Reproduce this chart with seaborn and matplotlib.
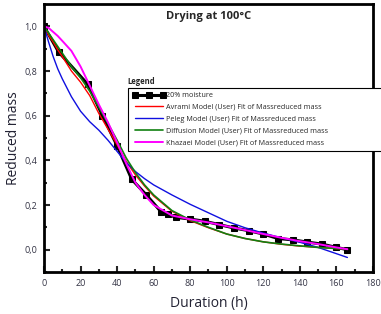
import pandas as pd
import numpy as np
import matplotlib
matplotlib.use("Agg")
import matplotlib.pyplot as plt
import seaborn as sns

# Measured data (20% moisture)
t_data = [0, 8, 24, 32, 40, 48, 56, 64, 68, 72, 80, 88, 96, 104, 112, 120, 128, 136, 144, 152, 160, 166]
m_data = [1.0, 0.885, 0.74, 0.60, 0.465, 0.315, 0.245, 0.17, 0.158, 0.145, 0.137, 0.127, 0.112,
          0.097, 0.085, 0.07, 0.05, 0.044, 0.034, 0.025, 0.01, 0.0]

# Model fit curves
t_fit = [0, 2.5, 5, 7.5, 10, 15, 20, 25, 30, 35, 40, 45, 50, 55, 60, 70, 80, 90, 100,
         110, 120, 130, 140, 150, 160, 166]
avrami = [1.0, 0.96, 0.93, 0.895, 0.865, 0.80, 0.75, 0.69, 0.61, 0.54, 0.47, 0.395, 0.335, 0.285,
          0.24, 0.172, 0.13, 0.098, 0.07, 0.05, 0.035, 0.024, 0.016, 0.01, 0.005, 0.003]
peleg = [1.0, 0.93, 0.865, 0.81, 0.765, 0.685, 0.62, 0.573, 0.535, 0.49, 0.44, 0.39, 0.35, 0.318,
         0.29, 0.245, 0.203, 0.165, 0.127, 0.098, 0.074, 0.053, 0.033, 0.01, -0.018, -0.035]
diffusion = [1.0, 0.97, 0.94, 0.91, 0.88, 0.82, 0.77, 0.71, 0.638, 0.565, 0.49, 0.41, 0.345, 0.29,
             0.245, 0.175, 0.133, 0.10, 0.07, 0.05, 0.035, 0.025, 0.017, 0.01, 0.005, 0.003]
khazaei = [1.0, 0.993, 0.975, 0.957, 0.935, 0.89, 0.82, 0.735, 0.65, 0.57, 0.48, 0.385, 0.30, 0.245,
           0.20, 0.153, 0.136, 0.122, 0.105, 0.088, 0.07, 0.053, 0.038, 0.025, 0.01, 0.002]

x_ticks = [0, 20, 40, 60, 80, 100, 120, 140, 160, 180]
y_ticks = [0.0, 0.2, 0.4, 0.6, 0.8, 1.0]
y_labels = ["0,0", "0,2", "0,4", "0,6", "0,8", "1,0"]

labels = ["20% moisture",
          "Avrami Model (User) Fit of Massreduced mass",
          "Peleg Model (User) Fit of Massreduced mass",
          "Diffusion Model (User) Fit of Massreduced mass",
          "Khazaei Model (User) Fit of Massreduced mass"]

sns.set_style("ticks")
plt.rcParams["font.family"] = ["Open Sans", "DejaVu Sans"]

fig = plt.figure(figsize=(3.81, 3.14), dpi=100)
ax = fig.add_axes([44 / 381, 1 - 272 / 314, 329 / 381, 268 / 314])

df_data = pd.DataFrame({"t": t_data, "m": m_data})
df_fit = pd.DataFrame({"t": t_fit, "avrami": avrami, "peleg": peleg,
                       "diffusion": diffusion, "khazaei": khazaei})

sns.lineplot(data=df_data, x="t", y="m", ax=ax, color="black", lw=2.2, marker="s",
             markersize=4.5, markeredgecolor="black", label=labels[0])
sns.lineplot(data=df_fit, x="t", y="avrami", ax=ax, color="#ff0000", lw=1, label=labels[1])
sns.lineplot(data=df_fit, x="t", y="peleg", ax=ax, color="#1010e0", lw=1, label=labels[2])
sns.lineplot(data=df_fit, x="t", y="diffusion", ax=ax, color="#108010", lw=1.2, label=labels[3])
sns.lineplot(data=df_fit, x="t", y="khazaei", ax=ax, color="#ff00ff", lw=1.4, label=labels[4])

ax.set_xlim(0, 180)
ax.set_ylim(-0.1, 1.1)
ax.set_xticks(x_ticks)
ax.set_xticks(np.arange(10, 180, 20), minor=True)
ax.set_yticks(y_ticks)
ax.set_yticklabels(y_labels)
ax.set_yticks([-0.1, 0.1, 0.3, 0.5, 0.7, 0.9], minor=True)
ax.tick_params(axis="both", which="major", direction="in", length=4, width=1.5,
               labelsize=6.5, labelcolor="#333344", pad=5)
ax.tick_params(axis="both", which="minor", direction="in", length=2.5, width=1.5)
for sp in ax.spines.values():
    sp.set_visible(True)
    sp.set_linewidth(2)
    sp.set_color("black")

ax.set_xlabel("Duration (h)", fontsize=10, color="#222233", labelpad=6)
ax.set_ylabel("Reduced mass", fontsize=10, color="#222233", labelpad=2)
ax.text(0.5, 0.955, "Drying at 100°C", transform=ax.transAxes, ha="center", va="center",
        fontsize=8, fontweight="bold")

leg = ax.legend(loc="upper left", bbox_to_anchor=(128 / 381, 1 - 91 / 314, 260 / 381, 0.01),
                bbox_transform=fig.transFigure, mode="expand", fontsize=5.2, frameon=True,
                fancybox=False, edgecolor="black", handlelength=4.5, borderpad=0.6,
                labelspacing=0.65, handletextpad=0.1, borderaxespad=0, numpoints=3)
leg.get_frame().set_linewidth(0.8)
leg.get_frame().set_alpha(1)
fig.text(127 / 381, 1 - 82 / 314, "Legend", fontsize=5.5, fontweight="bold", va="center")

fig.savefig("out.png", dpi=100)
